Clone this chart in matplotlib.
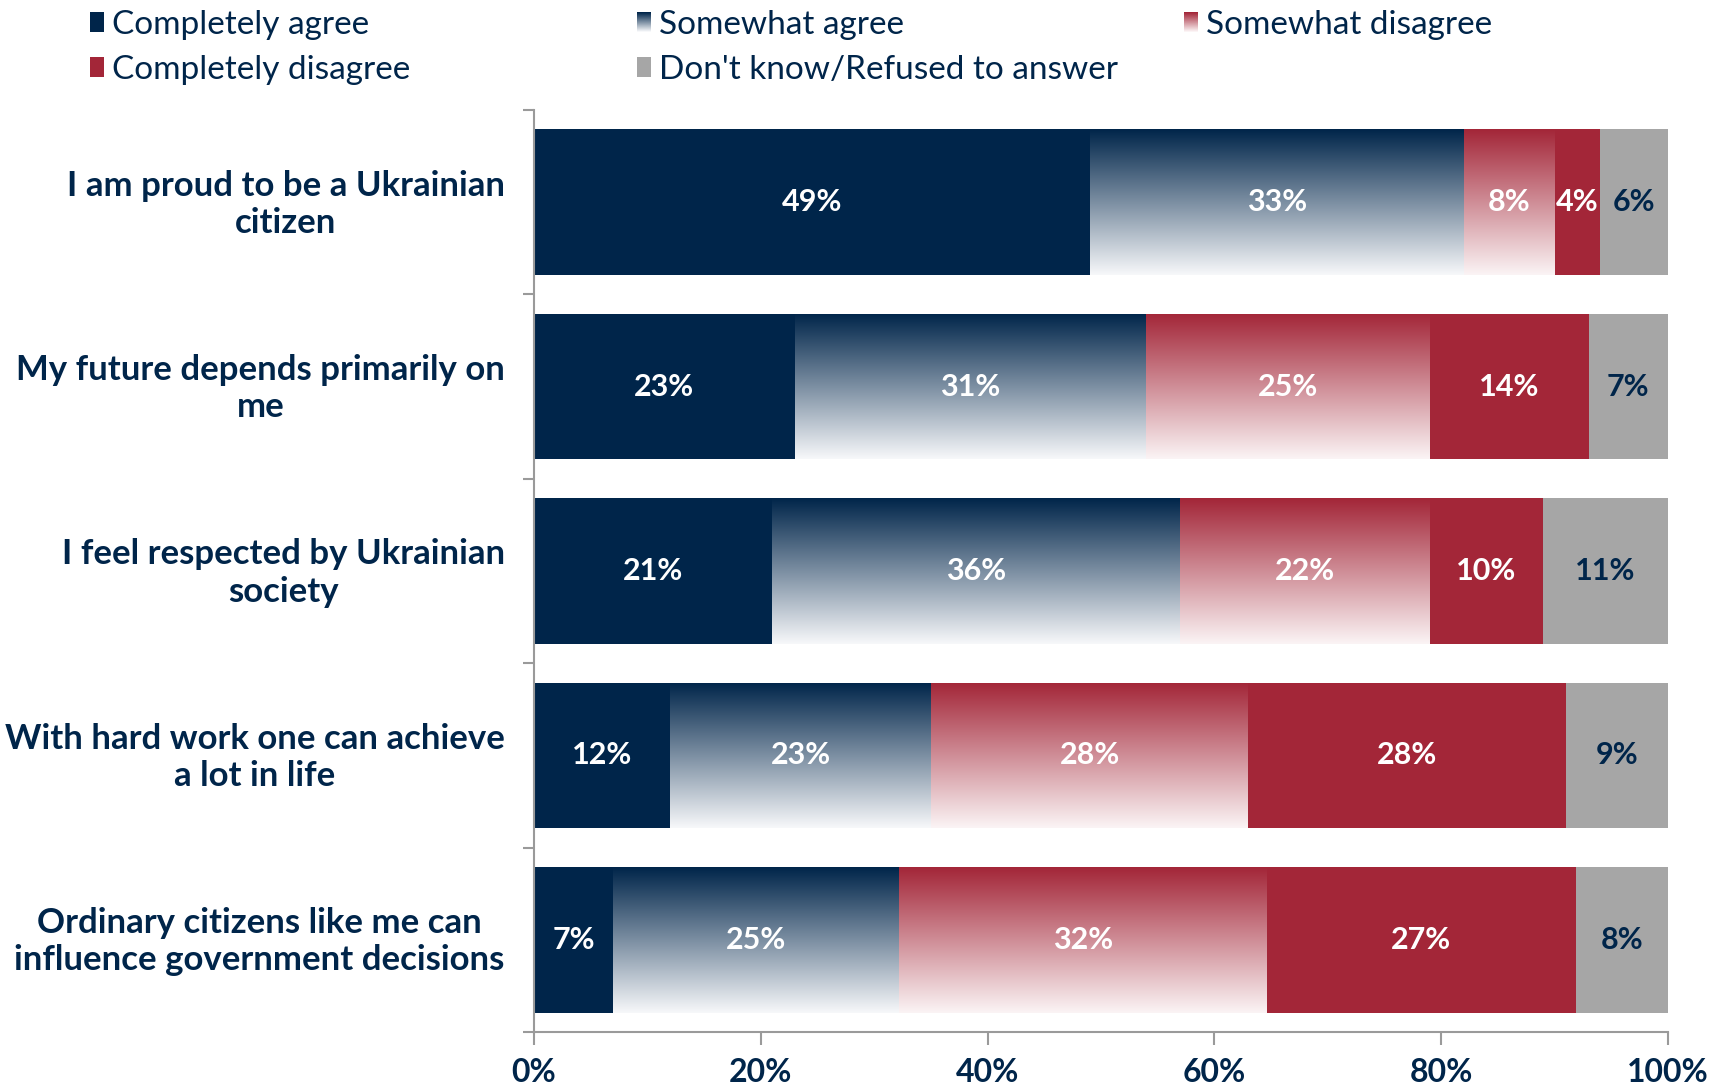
import numpy as np
import matplotlib.pyplot as plt
from matplotlib.colors import LinearSegmentedColormap
from matplotlib.patches import Rectangle

NAVY = "#00254A"
RED = "#A32638"
GREY = "#A6A6A6"
AXIS_GREY = "#9A9A9A"

plt.rcParams["font.family"] = ["Lato", "DejaVu Sans"]

questions = [
    "I am proud to be a Ukrainian\ncitizen",
    "My future depends primarily on\nme",
    "I feel respected by Ukrainian\nsociety",
    "With hard work one can achieve\na lot in life",
    "Ordinary citizens like me can\ninfluence government decisions",
]
series_names = ["Completely agree", "Somewhat agree", "Somewhat disagree",
                "Completely disagree", "Don't know/Refused to answer"]
completely_agree = [49, 23, 21, 12, 7.0]
somewhat_agree = [33, 31, 36, 23, 25.2]
somewhat_disagree = [8, 25, 22, 28, 32.4]
completely_disagree = [4, 14, 10, 28, 27.3]
dont_know = [6, 7, 11, 9, 8.1]

blue_grad = LinearSegmentedColormap.from_list("bg", ["#F7F8FA", NAVY])
red_grad = LinearSegmentedColormap.from_list("rg", ["#FBF4F5", RED])

W, H = 1727, 1085
fig = plt.figure(figsize=(W / 100, H / 100), dpi=100)
ax = fig.add_axes([0.3092, 0.0488, 0.6566, 0.8498])

y = np.arange(len(questions))[::-1]
bar_h = 0.79
grad = np.linspace(0, 1, 256).reshape(-1, 1)

series = [completely_agree, somewhat_agree, somewhat_disagree,
          completely_disagree, dont_know]
styles = [NAVY, blue_grad, red_grad, RED, GREY]
text_colors = ["white", "white", "white", "white", NAVY]

left = np.zeros(len(questions))
for vals, style, tc in zip(series, styles, text_colors):
    vals = np.array(vals, dtype=float)
    if isinstance(style, str):
        ax.barh(y, vals, bar_h, left=left, color=style, edgecolor="none", zorder=2)
    else:
        bars = ax.barh(y, vals, bar_h, left=left, color="none", edgecolor="none", zorder=2)
        for b in bars:
            x0, y0 = b.get_x(), b.get_y()
            im = ax.imshow(grad, cmap=style, origin="lower", aspect="auto",
                           extent=(x0, x0 + b.get_width(), y0, y0 + b.get_height()),
                           zorder=2, interpolation="bilinear")
            im.set_clip_path(b)
    for yi, l, v in zip(y, left, vals):
        ax.text(l + v / 2, yi, f"{round(v)}%", ha="center", va="center",
                color=tc, fontsize=22, fontweight="bold", zorder=3)
    left = left + vals

ax.set_xlim(0, 100)
ax.set_ylim(-0.5, len(questions) - 0.5)

ax.set_xticks(np.arange(0, 101, 20))
ax.set_xticklabels([f"{t}%" for t in range(0, 101, 20)])
ax.tick_params(axis="x", direction="out", length=9, width=1.5, color=AXIS_GREY,
               labelsize=23, labelcolor=NAVY, pad=10)
for lbl in ax.get_xticklabels():
    lbl.set_fontweight("bold")

ax.set_yticks(np.arange(-0.5, len(questions), 1.0))
ax.set_yticklabels([])
ax.tick_params(axis="y", which="major", direction="out", length=8, width=1.5,
               color=AXIS_GREY)
ax.set_yticks(y + 0.02, labels=questions, minor=True)
ax.tick_params(axis="y", which="minor", length=0, pad=21, labelsize=25,
               labelcolor=NAVY)
for lbl in ax.get_yticklabels(minor=True):
    lbl.set_fontweight("bold")
    lbl.set_multialignment("center")

for s in ["top", "right"]:
    ax.spines[s].set_visible(False)
for s in ["left", "bottom"]:
    ax.spines[s].set_color(AXIS_GREY)
    ax.spines[s].set_linewidth(1.5)

# legend laid out by hand: three fixed columns, filled row by row
legend_x = [90, 637, 1184]
legend_y = [22, 67]
key_w, key_h = 14, 19
for i, (name, style) in enumerate(zip(series_names, styles)):
    px = legend_x[i % 3]
    py = legend_y[i // 3]
    x0 = px / W
    y0 = 1 - (py + key_h / 2) / H
    if isinstance(style, str):
        fig.add_artist(Rectangle((x0, y0), key_w / W, key_h / H,
                                 transform=fig.transFigure, facecolor=style,
                                 edgecolor="none"))
    else:
        n = 20
        for k in range(n):
            fig.add_artist(Rectangle((x0, y0 + k * key_h / n / H), key_w / W,
                                     key_h / n / H * 1.1,
                                     transform=fig.transFigure,
                                     facecolor=style(k / (n - 1)), edgecolor="none"))
    fig.text((px + key_w + 8) / W, 1 - (py + 3) / H, name, ha="left", va="center",
             fontsize=24, color=NAVY)

fig.savefig("out.png", dpi=100)
